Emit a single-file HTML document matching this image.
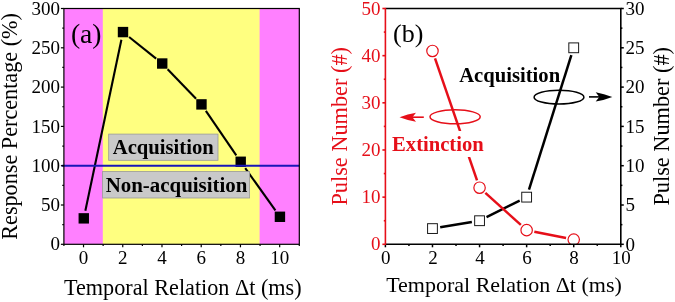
<!DOCTYPE html>
<html><head><meta charset="utf-8">
<style>
html,body{margin:0;padding:0;background:#fff;}
svg{display:block;will-change:transform;font-family:"Liberation Serif",serif;}
</style></head><body>
<svg width="675" height="302" viewBox="0 0 675 302">
<rect width="675" height="302" fill="#fff"/>
<g>
<rect x="63.9" y="8.5" width="235.4" height="235.8" fill="#ff80ff"/>
<rect x="102.8" y="8.5" width="156.8" height="235.8" fill="#ffff80"/>
<line x1="85.37" y1="210.73" x2="121.39" y2="39.71" stroke="#000" stroke-width="2.1"/>
<line x1="129.09" y1="36.96" x2="156.15" y2="58.64" stroke="#000" stroke-width="2.1"/>
<line x1="167.63" y1="69.15" x2="196.07" y2="98.76" stroke="#000" stroke-width="2.1"/>
<line x1="205.87" y1="110.83" x2="236.3" y2="155.33" stroke="#000" stroke-width="2.1"/>
<line x1="245.23" y1="168.12" x2="275.4" y2="210.44" stroke="#000" stroke-width="2.1"/>
<rect x="78.57" y="213.16" width="10.4" height="10.4" fill="#000"/>
<rect x="117.8" y="26.88" width="10.4" height="10.4" fill="#000"/>
<rect x="157.03" y="58.32" width="10.4" height="10.4" fill="#000"/>
<rect x="196.27" y="99.19" width="10.4" height="10.4" fill="#000"/>
<rect x="235.5" y="156.57" width="10.4" height="10.4" fill="#000"/>
<rect x="274.73" y="211.59" width="10.4" height="10.4" fill="#000"/>
<rect x="108.7" y="134.1" width="109.3" height="26.2" fill="#c9c9c9" stroke="#9a9a9a" stroke-width="0.8"/>
<text x="112.8" y="154.1" font-size="20.65" font-weight="bold">Acquisition</text>
<rect x="102.6" y="171.5" width="147" height="26.5" fill="#c9c9c9" stroke="#9a9a9a" stroke-width="0.8"/>
<text x="105.7" y="191.8" font-size="20.9" font-weight="bold">Non-acquisition</text>
<line x1="61.7" x2="299.3" y1="165.7" y2="165.7" stroke="#1816b8" stroke-width="2"/>
<rect x="63.9" y="8.5" width="235.4" height="235.8" fill="none" stroke="#000" stroke-width="1.2"/>
<g stroke="#000" stroke-width="1.2">
<line x1="60.9" x2="63.9" y1="244.3" y2="244.3"/>
<line x1="62.3" x2="63.9" y1="224.65" y2="224.65"/>
<line x1="60.9" x2="63.9" y1="205" y2="205"/>
<line x1="62.3" x2="63.9" y1="185.35" y2="185.35"/>
<line x1="60.9" x2="63.9" y1="165.7" y2="165.7"/>
<line x1="62.3" x2="63.9" y1="146.05" y2="146.05"/>
<line x1="60.9" x2="63.9" y1="126.4" y2="126.4"/>
<line x1="62.3" x2="63.9" y1="106.75" y2="106.75"/>
<line x1="60.9" x2="63.9" y1="87.1" y2="87.1"/>
<line x1="62.3" x2="63.9" y1="67.45" y2="67.45"/>
<line x1="60.9" x2="63.9" y1="47.8" y2="47.8"/>
<line x1="62.3" x2="63.9" y1="28.15" y2="28.15"/>
<line x1="60.9" x2="63.9" y1="8.5" y2="8.5"/>
<line x1="63.9" x2="63.9" y1="244.3" y2="245.9"/>
<line x1="83.52" x2="83.52" y1="244.3" y2="247.3"/>
<line x1="103.13" x2="103.13" y1="244.3" y2="245.9"/>
<line x1="122.75" x2="122.75" y1="244.3" y2="247.3"/>
<line x1="142.37" x2="142.37" y1="244.3" y2="245.9"/>
<line x1="161.98" x2="161.98" y1="244.3" y2="247.3"/>
<line x1="181.6" x2="181.6" y1="244.3" y2="245.9"/>
<line x1="201.22" x2="201.22" y1="244.3" y2="247.3"/>
<line x1="220.83" x2="220.83" y1="244.3" y2="245.9"/>
<line x1="240.45" x2="240.45" y1="244.3" y2="247.3"/>
<line x1="260.07" x2="260.07" y1="244.3" y2="245.9"/>
<line x1="279.68" x2="279.68" y1="244.3" y2="247.3"/>
<line x1="299.3" x2="299.3" y1="244.3" y2="245.9"/>
</g>
<g font-size="19" text-anchor="end">
<text x="60" y="250.4">0</text>
<text x="60" y="211.1">50</text>
<text x="60" y="171.8">100</text>
<text x="60" y="132.5">150</text>
<text x="60" y="93.2">200</text>
<text x="60" y="53.9">250</text>
<text x="60" y="14.6">300</text>
</g>
<g font-size="19" text-anchor="middle">
<text x="83.62" y="264.2">0</text>
<text x="122.85" y="264.2">2</text>
<text x="162.08" y="264.2">4</text>
<text x="201.32" y="264.2">6</text>
<text x="240.55" y="264.2">8</text>
<text x="279.78" y="264.2">10</text>
</g>
<text x="70.9" y="43.4" font-size="27.6">(a)</text>
<text x="182.8" y="295.4" font-size="22.2" text-anchor="middle">Temporal Relation Δt (ms)</text>
<text transform="translate(17.4,126.4) rotate(-90)" font-size="22.2" text-anchor="middle">Response Percentage (%)</text>
</g>
<g>
<clipPath id="cb"><rect x="385.4" y="8.5" width="235.4" height="235.8"/></clipPath>
<g clip-path="url(#cb)">
<line x1="440.17" y1="227.3" x2="471.87" y2="222" stroke="#000" stroke-width="2.5"/>
<line x1="486.53" y1="217.23" x2="519.67" y2="200.63" stroke="#000" stroke-width="2.5"/>
<line x1="528.99" y1="189.7" x2="571.37" y2="55.24" stroke="#000" stroke-width="2.5"/>
<line x1="435.02" y1="58.32" x2="477.02" y2="180.33" stroke="#e60f19" stroke-width="2.5"/>
<line x1="485.35" y1="192.93" x2="520.85" y2="224.93" stroke="#e60f19" stroke-width="2.5"/>
<line x1="534.29" y1="231.68" x2="566.07" y2="238.05" stroke="#e60f19" stroke-width="2.5"/>
<rect x="427.58" y="223.68" width="9.8" height="9.8" fill="#fff" stroke="#1a1a1a" stroke-width="1"/>
<rect x="474.66" y="215.82" width="9.8" height="9.8" fill="#fff" stroke="#1a1a1a" stroke-width="1"/>
<rect x="521.74" y="192.24" width="9.8" height="9.8" fill="#fff" stroke="#1a1a1a" stroke-width="1"/>
<rect x="568.82" y="42.9" width="9.8" height="9.8" fill="#fff" stroke="#1a1a1a" stroke-width="1"/>
<circle cx="432.48" cy="50.94" r="5.7" fill="#fff" stroke="#e60f19" stroke-width="1.2"/>
<circle cx="479.56" cy="187.71" r="5.7" fill="#fff" stroke="#e60f19" stroke-width="1.2"/>
<circle cx="526.64" cy="230.15" r="5.7" fill="#fff" stroke="#e60f19" stroke-width="1.2"/>
<circle cx="573.72" cy="239.58" r="5.7" fill="#fff" stroke="#e60f19" stroke-width="1.2"/>
</g>
<rect x="391" y="131" width="94" height="26" fill="#fff"/>
<text x="392.1" y="151.2" font-size="20.6" font-weight="bold" fill="#e60f19">Extinction</text>
<text x="459.2" y="81.8" font-size="20.65" font-weight="bold">Acquisition</text>
<ellipse cx="455.1" cy="116.8" rx="25.1" ry="7" fill="none" stroke="#e60f19" stroke-width="1.5"/>
<ellipse cx="559" cy="97.2" rx="24.9" ry="6.9" fill="none" stroke="#000" stroke-width="1.5"/>
<line x1="423.8" x2="408" y1="117.2" y2="117.2" stroke="#e60f19" stroke-width="1.6"/>
<path d="M399.5,117.2 Q407.8,114 416,112.8 L412.4,117.2 L416,121.7 Q407.8,120.4 399.5,117.2 Z" fill="#e60f19"/>
<line x1="589" x2="603" y1="96.9" y2="96.9" stroke="#000" stroke-width="1.6"/>
<path d="M612.3,96.9 Q604,93.7 595.7,92.2 L599.3,96.9 L595.7,101.6 Q604,100.1 612.3,96.9 Z" fill="#000"/>
<polyline points="385.4,8.5 620.8,8.5 620.8,244.3 385.4,244.3" fill="none" stroke="#000" stroke-width="1.6"/>
<g stroke="#000" stroke-width="1.5">
<line x1="385.4" x2="385.4" y1="244.3" y2="247.3"/>
<line x1="408.94" x2="408.94" y1="244.3" y2="245.9"/>
<line x1="432.48" x2="432.48" y1="244.3" y2="247.3"/>
<line x1="456.02" x2="456.02" y1="244.3" y2="245.9"/>
<line x1="479.56" x2="479.56" y1="244.3" y2="247.3"/>
<line x1="503.1" x2="503.1" y1="244.3" y2="245.9"/>
<line x1="526.64" x2="526.64" y1="244.3" y2="247.3"/>
<line x1="550.18" x2="550.18" y1="244.3" y2="245.9"/>
<line x1="573.72" x2="573.72" y1="244.3" y2="247.3"/>
<line x1="597.26" x2="597.26" y1="244.3" y2="245.9"/>
<line x1="620.8" x2="620.8" y1="244.3" y2="247.3"/>
<line x1="620.8" x2="623.8" y1="244.3" y2="244.3"/>
<line x1="620.8" x2="622.4" y1="224.65" y2="224.65"/>
<line x1="620.8" x2="623.8" y1="205" y2="205"/>
<line x1="620.8" x2="622.4" y1="185.35" y2="185.35"/>
<line x1="620.8" x2="623.8" y1="165.7" y2="165.7"/>
<line x1="620.8" x2="622.4" y1="146.05" y2="146.05"/>
<line x1="620.8" x2="623.8" y1="126.4" y2="126.4"/>
<line x1="620.8" x2="622.4" y1="106.75" y2="106.75"/>
<line x1="620.8" x2="623.8" y1="87.1" y2="87.1"/>
<line x1="620.8" x2="622.4" y1="67.45" y2="67.45"/>
<line x1="620.8" x2="623.8" y1="47.8" y2="47.8"/>
<line x1="620.8" x2="622.4" y1="28.15" y2="28.15"/>
<line x1="620.8" x2="623.8" y1="8.5" y2="8.5"/>
</g>
<g stroke="#e60f19" stroke-width="1.6">
<line x1="385.4" x2="385.4" y1="7.9" y2="244.9"/>
<line x1="382.4" x2="385.4" y1="244.3" y2="244.3"/>
<line x1="383.8" x2="385.4" y1="220.72" y2="220.72"/>
<line x1="382.4" x2="385.4" y1="197.14" y2="197.14"/>
<line x1="383.8" x2="385.4" y1="173.56" y2="173.56"/>
<line x1="382.4" x2="385.4" y1="149.98" y2="149.98"/>
<line x1="383.8" x2="385.4" y1="126.4" y2="126.4"/>
<line x1="382.4" x2="385.4" y1="102.82" y2="102.82"/>
<line x1="383.8" x2="385.4" y1="79.24" y2="79.24"/>
<line x1="382.4" x2="385.4" y1="55.66" y2="55.66"/>
<line x1="383.8" x2="385.4" y1="32.08" y2="32.08"/>
<line x1="382.4" x2="385.4" y1="8.5" y2="8.5"/>
</g>
<g font-size="19" text-anchor="end" fill="#e60f19">
<text x="380.5" y="250.4">0</text>
<text x="380.5" y="203.24">10</text>
<text x="380.5" y="156.08">20</text>
<text x="380.5" y="108.92">30</text>
<text x="380.5" y="61.76">40</text>
<text x="380.5" y="14.6">50</text>
</g>
<g font-size="19" text-anchor="start">
<text x="625.6" y="250.5">0</text>
<text x="625.6" y="211.2">5</text>
<text x="625.6" y="171.9">10</text>
<text x="625.6" y="132.6">15</text>
<text x="625.6" y="93.3">20</text>
<text x="625.6" y="54">25</text>
<text x="625.6" y="14.7">30</text>
</g>
<g font-size="19" text-anchor="middle">
<text x="385.8" y="263.5">0</text>
<text x="432.88" y="263.5">2</text>
<text x="479.96" y="263.5">4</text>
<text x="527.04" y="263.5">6</text>
<text x="574.12" y="263.5">8</text>
<text x="621.2" y="263.5">10</text>
</g>
<text x="393" y="42.3" font-size="26">(b)</text>
<text x="504" y="292.2" font-size="22.0" text-anchor="middle">Temporal Relation Δt (ms)</text>
<text transform="translate(346.7,126.3) rotate(-90)" font-size="22.3" text-anchor="middle" fill="#e60f19">Pulse Number (#)</text>
<text transform="translate(668.9,126.3) rotate(-90)" font-size="22.3" text-anchor="middle">Pulse Number (#)</text>
</g>
</svg>
</body></html>
